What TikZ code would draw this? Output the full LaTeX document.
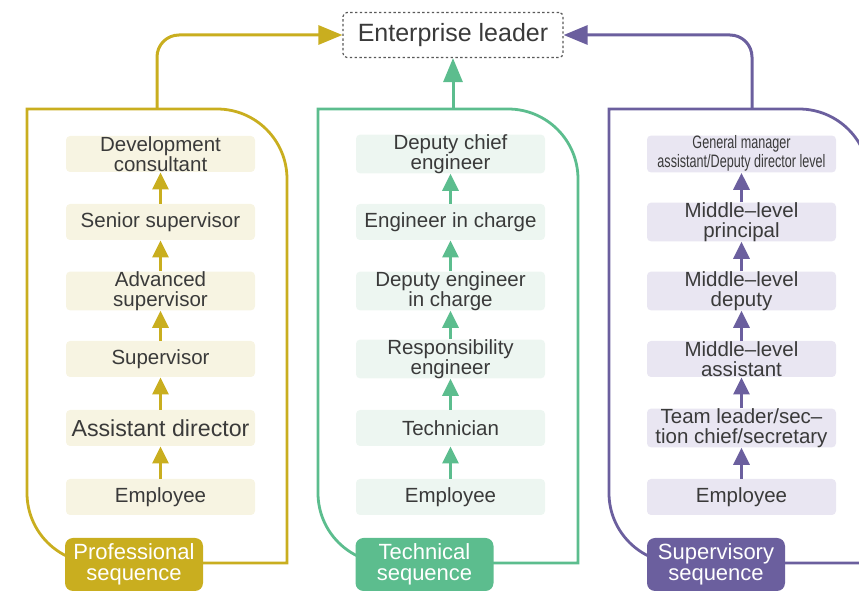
\documentclass[tikz,border=0pt]{standalone}
\usepackage{fontspec}
\setmainfont{Liberation Sans}
\usetikzlibrary{arrows.meta}
\definecolor{profcol}{HTML}{C9AE1F}
\definecolor{proffill}{HTML}{F7F4E2}
\definecolor{techcol}{HTML}{5CBD8E}
\definecolor{techfill}{HTML}{EDF6F1}
\definecolor{supcol}{HTML}{6B5F9E}
\definecolor{supfill}{HTML}{E9E6F2}
\definecolor{txtcol}{HTML}{3A3A3A}

\begin{document}
\begin{tikzpicture}[x=0.5pt, y=-0.5pt,
    level/.style={rectangle, rounded corners=2pt, minimum width=94.5pt, minimum height=18pt, inner sep=0pt, align=center, text=txtcol, font=\fontsize{10.25}{9.8}\selectfont},
    seqlabel/.style={rectangle, rounded corners=4pt, minimum width=69pt, minimum height=26.5pt, inner sep=0pt, align=center, text=white, font=\fontsize{11}{10.6}\selectfont},
    panel/.style={line width=1.4pt},
    uparrow/.style={-{Triangle[width=8pt,length=8.5pt]}, line width=1.5pt},
    bigarrow/.style={-{Triangle[width=9.5pt,length=12pt]}, line width=1.5pt, rounded corners=11pt}
]
    \clip (0,0) rectangle (859,593);

    % Top
    \node[draw=black!65, line width=0.6pt, dash pattern=on 1.2pt off 1.2pt, rounded corners=2pt, minimum width=110pt, minimum height=22.5pt, text=txtcol, font=\fontsize{12.5}{12.5}\selectfont] (leader) at (453,35) {Enterprise leader};

    % Professional sequence
    \draw[panel, profcol] (27,109) -- (217,109) .. controls (255.7,109) and (287,140.3) .. (287,179) -- (287,563) -- (97,563) .. controls (58.3,563) and (27,531.7) .. (27,493) -- cycle;
    \coordinate (proftop) at (157,109);
    \node[level, fill=proffill] (prof6) at (160.5,154) {Development\\consultant};
    \node[level, fill=proffill] (prof5) at (160.5,222) {Senior supervisor};
    \node[level, fill=proffill] (prof4) at (160.5,291) {Advanced\\supervisor};
    \node[level, fill=proffill] (prof3) at (160.5,359) {Supervisor};
    \node[level, fill=proffill, font=\fontsize{11.6}{11}\selectfont] (prof2) at (160.5,428) {Assistant director};
    \node[level, fill=proffill] (prof1) at (160.5,497) {Employee};
    \node[seqlabel, fill=profcol] (proflabel) at (134,564.5) {Professional\\sequence};

    % Technical sequence
    \draw[panel, techcol] (318,109) -- (508,109) .. controls (546.7,109) and (578,140.3) .. (578,179) -- (578,563) -- (388,563) .. controls (349.3,563) and (318,531.7) .. (318,493) -- cycle;
    \coordinate (techtop) at (453,109);
    \node[level, fill=techfill] (tech6) at (450.5,154) {Deputy chief\\engineer};
    \node[level, fill=techfill] (tech5) at (450.5,222) {Engineer in charge};
    \node[level, fill=techfill] (tech4) at (450.5,291) {Deputy engineer\\in charge};
    \node[level, fill=techfill] (tech3) at (450.5,359) {Responsibility\\engineer};
    \node[level, fill=techfill] (tech2) at (450.5,428) {Technician};
    \node[level, fill=techfill] (tech1) at (450.5,497) {Employee};
    \node[seqlabel, fill=techcol] (techlabel) at (424.5,564.5) {Technical\\sequence};

    % Supervisory sequence
    \draw[panel, supcol] (609,109) -- (799,109) .. controls (837.7,109) and (869,140.3) .. (869,179) -- (869,563) -- (679,563) .. controls (640.3,563) and (609,531.7) .. (609,493) -- cycle;
    \coordinate (suptop) at (752,109);
    \node[level, fill=supfill] (sup6) at (741.5,154) {\fontsize{9}{9}\selectfont\scalebox{0.7}[1]{\begin{tabular}{@{}c@{}}General manager\\assistant/Deputy director level\end{tabular}}};
    \node[level, fill=supfill] (sup5) at (741.5,222) {Middle–level\\principal};
    \node[level, fill=supfill] (sup4) at (741.5,291) {Middle–level\\deputy};
    \node[level, fill=supfill] (sup3) at (741.5,359) {Middle–level\\assistant};
    \node[level, fill=supfill] (sup2) at (741.5,428) {Team leader/sec–\\tion chief/secretary};
    \node[level, fill=supfill] (sup1) at (741.5,497) {Employee};
    \node[seqlabel, fill=supcol] (suplabel) at (716,564.5) {Supervisory\\sequence};

    % Promotion arrows
    \draw[uparrow, profcol] (prof1) -- (prof2);
    \draw[uparrow, profcol] (prof2) -- (prof3);
    \draw[uparrow, profcol] (prof3) -- (prof4);
    \draw[uparrow, profcol] (prof4) -- (prof5);
    \draw[uparrow, profcol] (prof5) -- (prof6);
    \draw[uparrow, techcol] (tech1) -- (tech2);
    \draw[uparrow, techcol] (tech2) -- (tech3);
    \draw[uparrow, techcol] (tech3) -- (tech4);
    \draw[uparrow, techcol] (tech4) -- (tech5);
    \draw[uparrow, techcol] (tech5) -- (tech6);
    \draw[uparrow, supcol] (sup1) -- (sup2);
    \draw[uparrow, supcol] (sup2) -- (sup3);
    \draw[uparrow, supcol] (sup3) -- (sup4);
    \draw[uparrow, supcol] (sup4) -- (sup5);
    \draw[uparrow, supcol] (sup5) -- (sup6);

    % To the leader
    \draw[bigarrow, profcol] (proftop) |- (leader.west);
    \draw[bigarrow, techcol] (techtop) -- (leader.south);
    \draw[bigarrow, supcol] (suptop) |- (leader.east);
\end{tikzpicture}
\end{document}
